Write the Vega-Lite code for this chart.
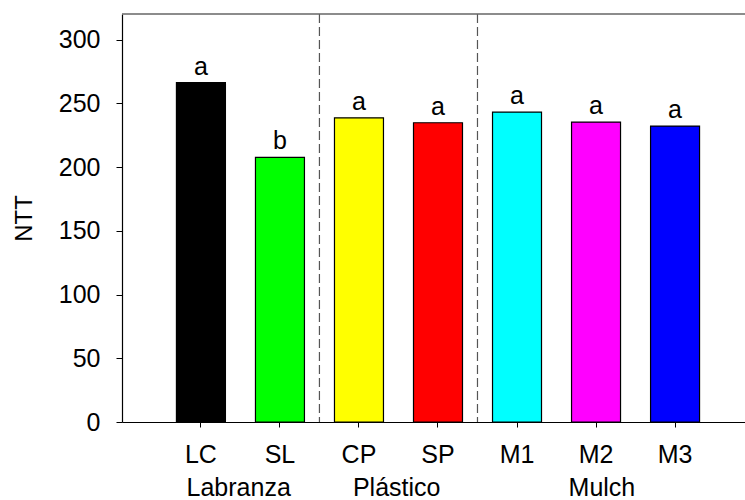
{
  "$schema": "https://vega.github.io/schema/vega-lite/v6.json",
  "width": 623,
  "height": 408,
  "autosize": {"type": "none"},
  "padding": {"left": 122, "top": 14, "right": 0, "bottom": 78},
  "background": "white",
  "config": {
    "view": {"stroke": null},
    "font": "Liberation Sans",
    "axis": {"labelFont": "Liberation Sans", "titleFont": "Liberation Sans", "labelColor": "black", "titleColor": "black", "grid": false},
    "scale": {"bandPaddingInner": 0.38, "bandPaddingOuter": 0.632}
  },
  "datasets": {
    "tratamientos": [
      {"trat": "LC", "valor": 266.1, "letra": "a", "color": "#000000"},
      {"trat": "SL", "valor": 207.5, "letra": "b", "color": "#00ff00"},
      {"trat": "CP", "valor": 238.6, "letra": "a", "color": "#ffff00"},
      {"trat": "SP", "valor": 234.7, "letra": "a", "color": "#ff0000"},
      {"trat": "M1", "valor": 243.1, "letra": "a", "color": "#00ffff"},
      {"trat": "M2", "valor": 235.2, "letra": "a", "color": "#ff00ff"},
      {"trat": "M3", "valor": 232.1, "letra": "a", "color": "#0000ff"}
    ],
    "separadores": [{"tras": "SL"}, {"tras": "SP"}],
    "grupos": [
      {"grupo": "Labranza", "primero": "LC"},
      {"grupo": "Plástico", "primero": "CP"}
    ],
    "grupoMulch": [{"grupo": "Mulch", "centro": "M2"}]
  },
  "resolve": {"scale": {"x": "shared", "y": "shared"}},
  "layer": [
    {
      "data": {"name": "tratamientos"},
      "mark": {"type": "bar", "stroke": "black", "strokeWidth": 1.2},
      "encoding": {
        "x": {
          "field": "trat", "type": "nominal", "sort": null,
          "scale": {"align": 0.545, "paddingInner": 0.38, "paddingOuter": 0.632},
          "axis": {
            "title": null, "labelAngle": 0, "labelFontSize": 25, "labelPadding": 15,
            "tickSize": 5, "tickColor": "black", "domainColor": "black", "domainWidth": 1.2
          }
        },
        "y": {
          "field": "valor", "type": "quantitative",
          "scale": {"domain": [0, 320], "nice": false, "zero": true},
          "axis": {
            "title": "NTT", "titleFontSize": 24, "titleFontWeight": "normal", "titlePadding": 22,
            "values": [0, 50, 100, 150, 200, 250, 300], "labelFontSize": 25, "labelPadding": 16,
            "tickSize": 6, "tickColor": "black", "domainColor": "black", "domainWidth": 1.2
          }
        },
        "color": {"field": "color", "type": "nominal", "scale": null}
      }
    },
    {
      "data": {"name": "tratamientos"},
      "mark": {"type": "text", "fontSize": 25, "baseline": "alphabetic", "dy": -8, "color": "black"},
      "encoding": {
        "x": {"field": "trat", "type": "nominal", "sort": null},
        "y": {"field": "valor", "type": "quantitative"},
        "text": {"field": "letra"}
      }
    },
    {
      "data": {"name": "separadores"},
      "mark": {"type": "rule", "color": "#555555", "strokeWidth": 1.2, "strokeDash": [9, 4]},
      "encoding": {
        "x": {"field": "tras", "type": "nominal", "sort": null, "bandPosition": 1.306}
      }
    },
    {
      "data": {"values": [{"borde": 320}]},
      "mark": {"type": "rule", "color": "#666666", "strokeWidth": 1.5},
      "encoding": {"y": {"field": "borde", "type": "quantitative"}}
    },
    {
      "data": {"name": "grupos"},
      "mark": {"type": "text", "fontSize": 25, "baseline": "alphabetic", "color": "black", "clip": false},
      "encoding": {
        "x": {"field": "primero", "type": "nominal", "sort": null, "bandPosition": 1.27},
        "y": {"datum": -58.4},
        "text": {"field": "grupo"}
      }
    },
    {
      "data": {"name": "grupoMulch"},
      "mark": {"type": "text", "fontSize": 25, "baseline": "alphabetic", "color": "black", "clip": false},
      "encoding": {
        "x": {"field": "centro", "type": "nominal", "sort": null, "bandPosition": 0.62},
        "y": {"datum": -58.4},
        "text": {"field": "grupo"}
      }
    }
  ]
}
